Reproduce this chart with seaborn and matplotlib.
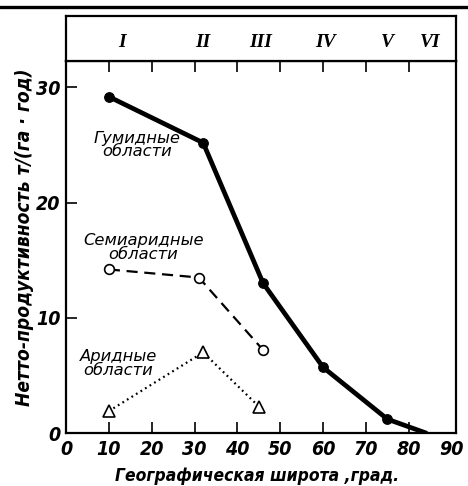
import matplotlib
matplotlib.use("Agg")
import matplotlib.pyplot as plt
import seaborn as sns
import pandas as pd
from matplotlib.lines import Line2D

# ---- data ----
humid_lat = [10, 32, 46, 60, 75, 84]
humid_val = [29.2, 25.2, 13.0, 5.7, 1.2, 0.0]
semi_lat = [10, 31, 46]
semi_val = [14.2, 13.5, 7.2]
arid_lat = [10, 32, 45]
arid_val = [1.9, 7.0, 2.3]
zone_labels = ["I", "II", "III", "IV", "V", "VI"]
zone_pos = [13, 32, 45.5, 60.5, 75, 85]
xticks = [0, 10, 20, 30, 40, 50, 60, 70, 80, 90]
yticks = [0, 10, 20, 30]

sns.set_theme(style="white")
plt.rcParams['font.family'] = ['DejaVu Sans']
plt.rcParams['text.color'] = 'black'
plt.rcParams['axes.labelcolor'] = 'black'
plt.rcParams['xtick.color'] = 'black'
plt.rcParams['ytick.color'] = 'black'

fig = plt.figure(figsize=(4.68, 4.86), dpi=100)
W, H = 468, 486
left, right, top_sep, bottom, top_frame = 66, 456, 61, 433, 16
ax = fig.add_axes([left / W, 1 - bottom / H, (right - left) / W, (bottom - top_sep) / H])
hx = fig.add_axes([left / W, 1 - top_sep / H, (right - left) / W, (top_sep - top_frame) / H])

df_h = pd.DataFrame({"lat": humid_lat, "val": humid_val})
df_s = pd.DataFrame({"lat": semi_lat, "val": semi_val})
df_a = pd.DataFrame({"lat": arid_lat, "val": arid_val})

sns.lineplot(data=df_h, x="lat", y="val", ax=ax, color="black", lw=3.4, sort=False,
             marker="o", markersize=7, markevery=[0, 1, 2, 3, 4], markeredgecolor="black")
sns.lineplot(data=df_s, x="lat", y="val", ax=ax, color="black", lw=1.6, sort=False,
             dashes=(5, 3), marker="o", markersize=7, markerfacecolor="white",
             markeredgecolor="black", markeredgewidth=1.2)
sns.lineplot(data=df_a, x="lat", y="val", ax=ax, color="black", lw=1.6, sort=False,
             dashes=(0.8, 1.6), marker="^", markersize=9, markerfacecolor="white",
             markeredgecolor="black", markeredgewidth=1.2)

ax.set_xlim(0, 91)
ax.set_ylim(0, 32.3)
ax.set_xticks(xticks)
ax.set_yticks(yticks)
tick_font = dict(fontsize=14, fontweight="bold", fontstyle="italic", fontstretch="condensed")
ax.set_xticklabels([str(t) for t in xticks], **tick_font)
ax.set_yticklabels([str(t) for t in yticks], **tick_font)
ax.tick_params(axis="both", direction="in", length=8, width=1.2, color="black",
               top=True, bottom=True, left=True, right=False, labelcolor="black", pad=4)
ax.tick_params(axis="x", pad=5)
for i in (0, len(xticks) - 1):
    t = ax.xaxis.get_major_ticks()[i]
    t.tick1line.set_visible(False)
    t.tick2line.set_visible(False)
for sp in ax.spines.values():
    sp.set_linewidth(1.6)
    sp.set_color("black")
ax.set_xlabel("Географическая широта ,град.", fontsize=12.5, fontstyle="italic",
              fontweight="bold", fontstretch="condensed")
ax.set_ylabel("Нетто-продуктивность т/(га · год)", fontsize=13.8, fontstyle="italic",
              fontweight="bold", fontstretch="condensed")
ax.xaxis.set_label_coords(0.49, -0.092)
ax.yaxis.set_label_coords(-0.083, 0.527)

lab_font = dict(fontsize=11.8, fontstyle="italic", linespacing=0.9,
                ha="center", va="center", multialignment="center")
ax.text(16.6, 25.0, "Гумидные\nобласти", **lab_font)
ax.text(18.1, 16.1, "Семиаридные\nобласти", **lab_font)
ax.text(12.2, 6.0, "Аридные\nобласти", **lab_font)

hx.set_xlim(0, 91)
hx.set_ylim(0, 1)
hx.set_xticks([])
hx.set_yticks([])
for sp in hx.spines.values():
    sp.set_linewidth(1.6)
    sp.set_color("black")
for lab, pos in zip(zone_labels, zone_pos):
    hx.text(pos, 0.42, lab, ha="center", va="center", fontsize=14,
            fontweight="bold", fontstyle="italic", family="Liberation Serif")

fig.add_artist(Line2D([0, 1], [1 - 7 / H, 1 - 7 / H], transform=fig.transFigure,
                      color="black", lw=2.4))

fig.savefig("out.png", dpi=100)
